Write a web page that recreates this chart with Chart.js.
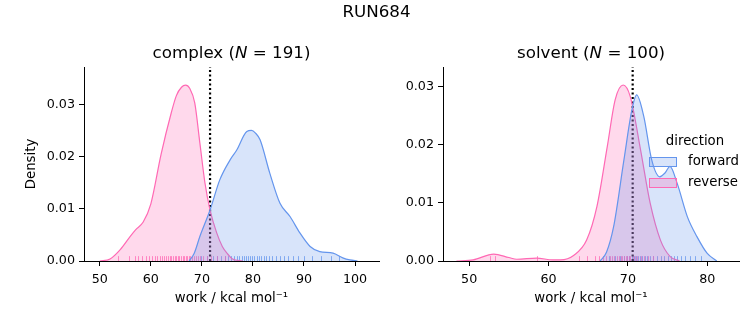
<!DOCTYPE html>
<html>
<head>
<meta charset="utf-8">
<script src="https://cdn.jsdelivr.net/npm/chart.js@4.4.1/dist/chart.umd.min.js"></script>
<style>
  body { margin: 0; background: #fff; }
  #wrap { position: relative; width: 753px; height: 325px; }
  #wrap canvas { position: absolute; left: 0; top: 0; }
</style>
</head>
<body>
<div id="wrap">
  <canvas id="complexChart" width="753" height="325"></canvas>
  <canvas id="solventChart" width="753" height="325"></canvas>
</div>
<script>
// --- data ---
const complexFwdX = [67.5, 68.5, 69.6, 71.6, 73.5, 75.5, 76.8, 78.8, 79.7, 80.5, 81.4, 83.3, 85.3, 87.3, 89.2, 91.2, 93.1, 95.7, 97.6, 99, 100.5];
const complexFwdY = [0, 0.0015, 0.0047, 0.0098, 0.0156, 0.0194, 0.0213, 0.0249, 0.0251, 0.0246, 0.0233, 0.0169, 0.0111, 0.0085, 0.0054, 0.0028, 0.0018, 0.0015, 0.0006, 0.0002, 0];
const complexRevX = [50, 52, 54, 56, 57, 58.5, 60, 62, 64, 65, 66, 66.8, 67.6, 68.6, 69.6, 70.6, 71.6, 72.9, 74, 75, 76, 78];
const complexRevY = [0, 0.0004, 0.0022, 0.0048, 0.006, 0.0075, 0.011, 0.0205, 0.0285, 0.0318, 0.0334, 0.0338, 0.0332, 0.0304, 0.0227, 0.015, 0.0098, 0.0054, 0.0028, 0.0014, 0.0004, 0];

const solventFwdX = [66.5, 67.3, 68.2, 69.5, 70.5, 71.1, 72.0, 73.0, 74.0, 74.7, 75.3, 76.2, 77.5, 78.7, 80.0, 81.2];
const solventFwdY = [0, 0.0015, 0.0059, 0.0174, 0.026, 0.0286, 0.0249, 0.0174, 0.0145, 0.0152, 0.0163, 0.0134, 0.0076, 0.0042, 0.0013, 0];
const solventRevX = [48.4, 50.5, 53.1, 55, 56, 58.5, 60.5, 61.5, 63.2, 64.8, 66.1, 67.4, 68.4, 69.4, 70.3, 71.6, 72.8, 74.1, 75.3, 76.5];
const solventRevY = [0, 0.0002, 0.0012, 0.0006, 0.0003, 0.0005, 0.0002, 0.0002, 0.001, 0.0036, 0.0094, 0.0197, 0.0278, 0.0303, 0.0283, 0.0191, 0.01, 0.0036, 0.0008, 0];

// rug samples
const complexFwdRug = [69.8, 71.0, 72.1, 73.0, 73.8, 74.5, 75.1, 75.7, 76.2, 76.8, 77.3, 77.8, 78.3, 78.7, 79.1, 79.5, 79.9, 80.3, 80.7, 81.1, 81.6, 82.1, 82.6, 83.2, 83.8, 84.5, 85.3, 86.0, 86.9, 87.8, 88.8, 90.1, 91.6, 93.4, 95.2, 96.8];
const complexRevRug = [53.6, 55.8, 56.9, 57.5, 58.3, 59.0, 59.6, 60.2, 60.8, 61.3, 61.7, 62.2, 62.6, 63.0, 63.3, 63.7, 64.0, 64.4, 64.7, 65.0, 65.3, 65.6, 65.9, 66.2, 66.5, 66.8, 67.1, 67.4, 67.7, 68.0, 68.4, 68.8, 69.2, 69.7, 70.3, 71.0, 71.8, 72.9, 74.5];
const solventFwdRug = [67.6, 68.4, 69.0, 69.5, 69.9, 70.2, 70.5, 70.8, 71.0, 71.3, 71.5, 71.8, 72.1, 72.4, 72.8, 73.2, 73.7, 74.2, 74.6, 75.0, 75.4, 75.8, 76.2, 76.7, 77.2, 77.8, 78.5, 79.2];
const solventRevRug = [52.6, 53.3, 58.5, 63.8, 64.9, 65.8, 66.4, 66.9, 67.3, 67.7, 68.0, 68.3, 68.6, 68.9, 69.1, 69.3, 69.5, 69.7, 69.9, 70.1, 70.3, 70.6, 70.9, 71.2, 71.6, 72.0, 72.5, 73.1];

const complexMark = 71.6;
const solventMark = 70.6;

const complexTicksX = [50, 60, 70, 80, 90, 100];
const solventTicksX = [50, 60, 70, 80];
const densityTicks = [0, 0.01, 0.02, 0.03];
const legendLabels = ['forward', 'reverse'];

// --- styles ---
const FONT = 'DejaVu Sans';
const BLUE = '#6495ED', BLUE_FILL = 'rgba(100,149,237,0.25)', BLUE_RUG = 'rgba(100,149,237,0.75)';
const PINK = '#FF69B4', PINK_FILL = 'rgba(255,105,180,0.25)', PINK_RUG = 'rgba(255,105,180,0.75)';

const pts = (xs, ys) => xs.map((x, i) => ({ x: x, y: ys[i] }));

function drawText(ctx, parts, cx, cy, size) {
    let total = 0;
    parts.forEach(p => {
        ctx.font = (p[1] ? 'italic ' : '') + size + 'px "' + FONT + '"';
        total += ctx.measureText(p[0]).width;
    });
    let x = cx - total / 2;
    ctx.textAlign = 'left';
    ctx.textBaseline = 'middle';
    parts.forEach(p => {
        ctx.font = (p[1] ? 'italic ' : '') + size + 'px "' + FONT + '"';
        ctx.fillText(p[0], x, cy);
        x += ctx.measureText(p[0]).width;
    });
}

const decor = {
    id: 'decor',
    beforeDatasetDraw(chart, args, opts) {
        // rug under the dotted line
        if (args.index !== 2) return;
        const { ctx, chartArea } = chart;
        const xs = chart.scales.x;
        const h = (chartArea.bottom - chartArea.top) * 0.025;
        ctx.save();
        ctx.lineWidth = 1;
        [[opts.fwdRug, BLUE_RUG], [opts.revRug, PINK_RUG]].forEach(r => {
            ctx.strokeStyle = r[1];
            r[0].forEach(v => {
                const px = Math.round(xs.getPixelForValue(v)) + 0.5;
                ctx.beginPath();
                ctx.moveTo(px, chartArea.bottom);
                ctx.lineTo(px, chartArea.bottom - h);
                ctx.stroke();
            });
        });
        ctx.restore();
    },
    afterDraw(chart, args, opts) {
        const { ctx, chartArea } = chart;
        ctx.save();
        ctx.fillStyle = '#000';
        if (opts.suptitle) drawText(ctx, [[opts.suptitle, false]], 376.5, 13, 16.7);
        drawText(ctx, opts.title, (chartArea.left + chartArea.right) / 2, 54, 16.7);

        if (opts.legend) {
            drawText(ctx, [['direction', false]], 695, 142, 13.3);
            const items = [[BLUE, BLUE_FILL], [PINK, PINK_FILL]];
            items.forEach((it, i) => {
                const y = 157 + i * 21;
                ctx.fillStyle = it[1];
                ctx.fillRect(649, y, 28, 10);
                ctx.strokeStyle = it[0];
                ctx.lineWidth = 1;
                ctx.strokeRect(649.5, y + 0.5, 27, 9);
                ctx.fillStyle = '#000';
                ctx.font = '13.3px "' + FONT + '"';
                ctx.textAlign = 'left';
                ctx.textBaseline = 'middle';
                ctx.fillText(legendLabels[i], 688, y + 5);
            });
        }
        ctx.restore();
    }
};

function makePanel(id, p) {
    const tickFont = { family: FONT, size: 12.7 };
    const labelFont = { family: FONT, size: 13.3 };
    return new Chart(document.getElementById(id).getContext('2d'), {
        type: 'line',
        data: {
            datasets: [
                {
                    label: 'forward',
                    data: pts(p.fwdX, p.fwdY),
                    borderColor: BLUE,
                    backgroundColor: BLUE_FILL,
                    fill: 'origin',
                    borderWidth: 1.2,
                    pointRadius: 0,
                    cubicInterpolationMode: 'monotone'
                },
                {
                    label: 'reverse',
                    data: pts(p.revX, p.revY),
                    borderColor: PINK,
                    backgroundColor: PINK_FILL,
                    fill: 'origin',
                    borderWidth: 1.2,
                    pointRadius: 0,
                    cubicInterpolationMode: 'monotone'
                },
                {
                    label: 'mark',
                    data: [{ x: p.mark, y: 0 }, { x: p.mark, y: p.yMax }],
                    borderColor: '#000',
                    borderDash: [2, 2.5],
                    borderWidth: 2.2,
                    pointRadius: 0,
                    fill: false
                }
            ]
        },
        options: {
            responsive: false,
            animation: false,
            layout: { padding: { left: p.padLeft, right: p.padRight, top: 67, bottom: 0 } },
            plugins: {
                legend: { display: false },
                tooltip: { enabled: false },
                decor: {
                    title: p.title,
                    suptitle: p.suptitle,
                    legend: p.legend,
                    fwdRug: p.fwdRug,
                    revRug: p.revRug
                }
            },
            scales: {
                x: {
                    type: 'linear',
                    min: p.xMin,
                    max: p.xMax,
                    afterBuildTicks: s => { s.ticks = p.ticksX.map(v => ({ value: v })); },
                    afterFit: s => { s.height = 64; },
                    grid: { drawOnChartArea: false, tickLength: 5, color: '#000' },
                    border: { color: '#000', width: 1 },
                    ticks: { color: '#000', font: tickFont, padding: 6, maxRotation: 0, autoSkip: false },
                    title: {
                        display: true,
                        text: 'work / kcal mol⁻¹',
                        color: '#000',
                        font: labelFont,
                        padding: { top: 0, bottom: 18 }
                    }
                },
                y: {
                    min: 0,
                    max: p.yMax,
                    afterBuildTicks: s => { s.ticks = densityTicks.map(v => ({ value: v })); },
                    afterFit: s => { s.width = p.yWidth; },
                    grid: { drawOnChartArea: false, tickLength: 5, color: '#000' },
                    border: { color: '#000', width: 1 },
                    ticks: { color: '#000', font: tickFont, padding: 4, callback: v => v.toFixed(2) },
                    title: {
                        display: p.yTitle,
                        text: 'Density',
                        color: '#000',
                        font: labelFont,
                        padding: { top: 4, bottom: 0 }
                    }
                }
            }
        },
        plugins: [decor]
    });
}

makePanel('complexChart', {
    fwdX: complexFwdX, fwdY: complexFwdY, revX: complexRevX, revY: complexRevY,
    fwdRug: complexFwdRug, revRug: complexRevRug, mark: complexMark,
    ticksX: complexTicksX, xMin: 46.9, xMax: 104.7, yMax: 0.0373,
    padLeft: 20, padRight: 374, yWidth: 64, yTitle: true,
    title: [['complex (', false], ['N', true], [' = 191)', false]],
    suptitle: 'RUN684', legend: false
});

makePanel('solventChart', {
    fwdX: solventFwdX, fwdY: solventFwdY, revX: solventRevX, revY: solventRevY,
    fwdRug: solventFwdRug, revRug: solventRevRug, mark: solventMark,
    ticksX: solventTicksX, xMin: 46.7, xMax: 84.0, yMax: 0.0334,
    padLeft: 390, padRight: 14, yWidth: 53, yTitle: false,
    title: [['solvent (', false], ['N', true], [' = 100)', false]],
    suptitle: null, legend: true
});
</script>
</body>
</html>
